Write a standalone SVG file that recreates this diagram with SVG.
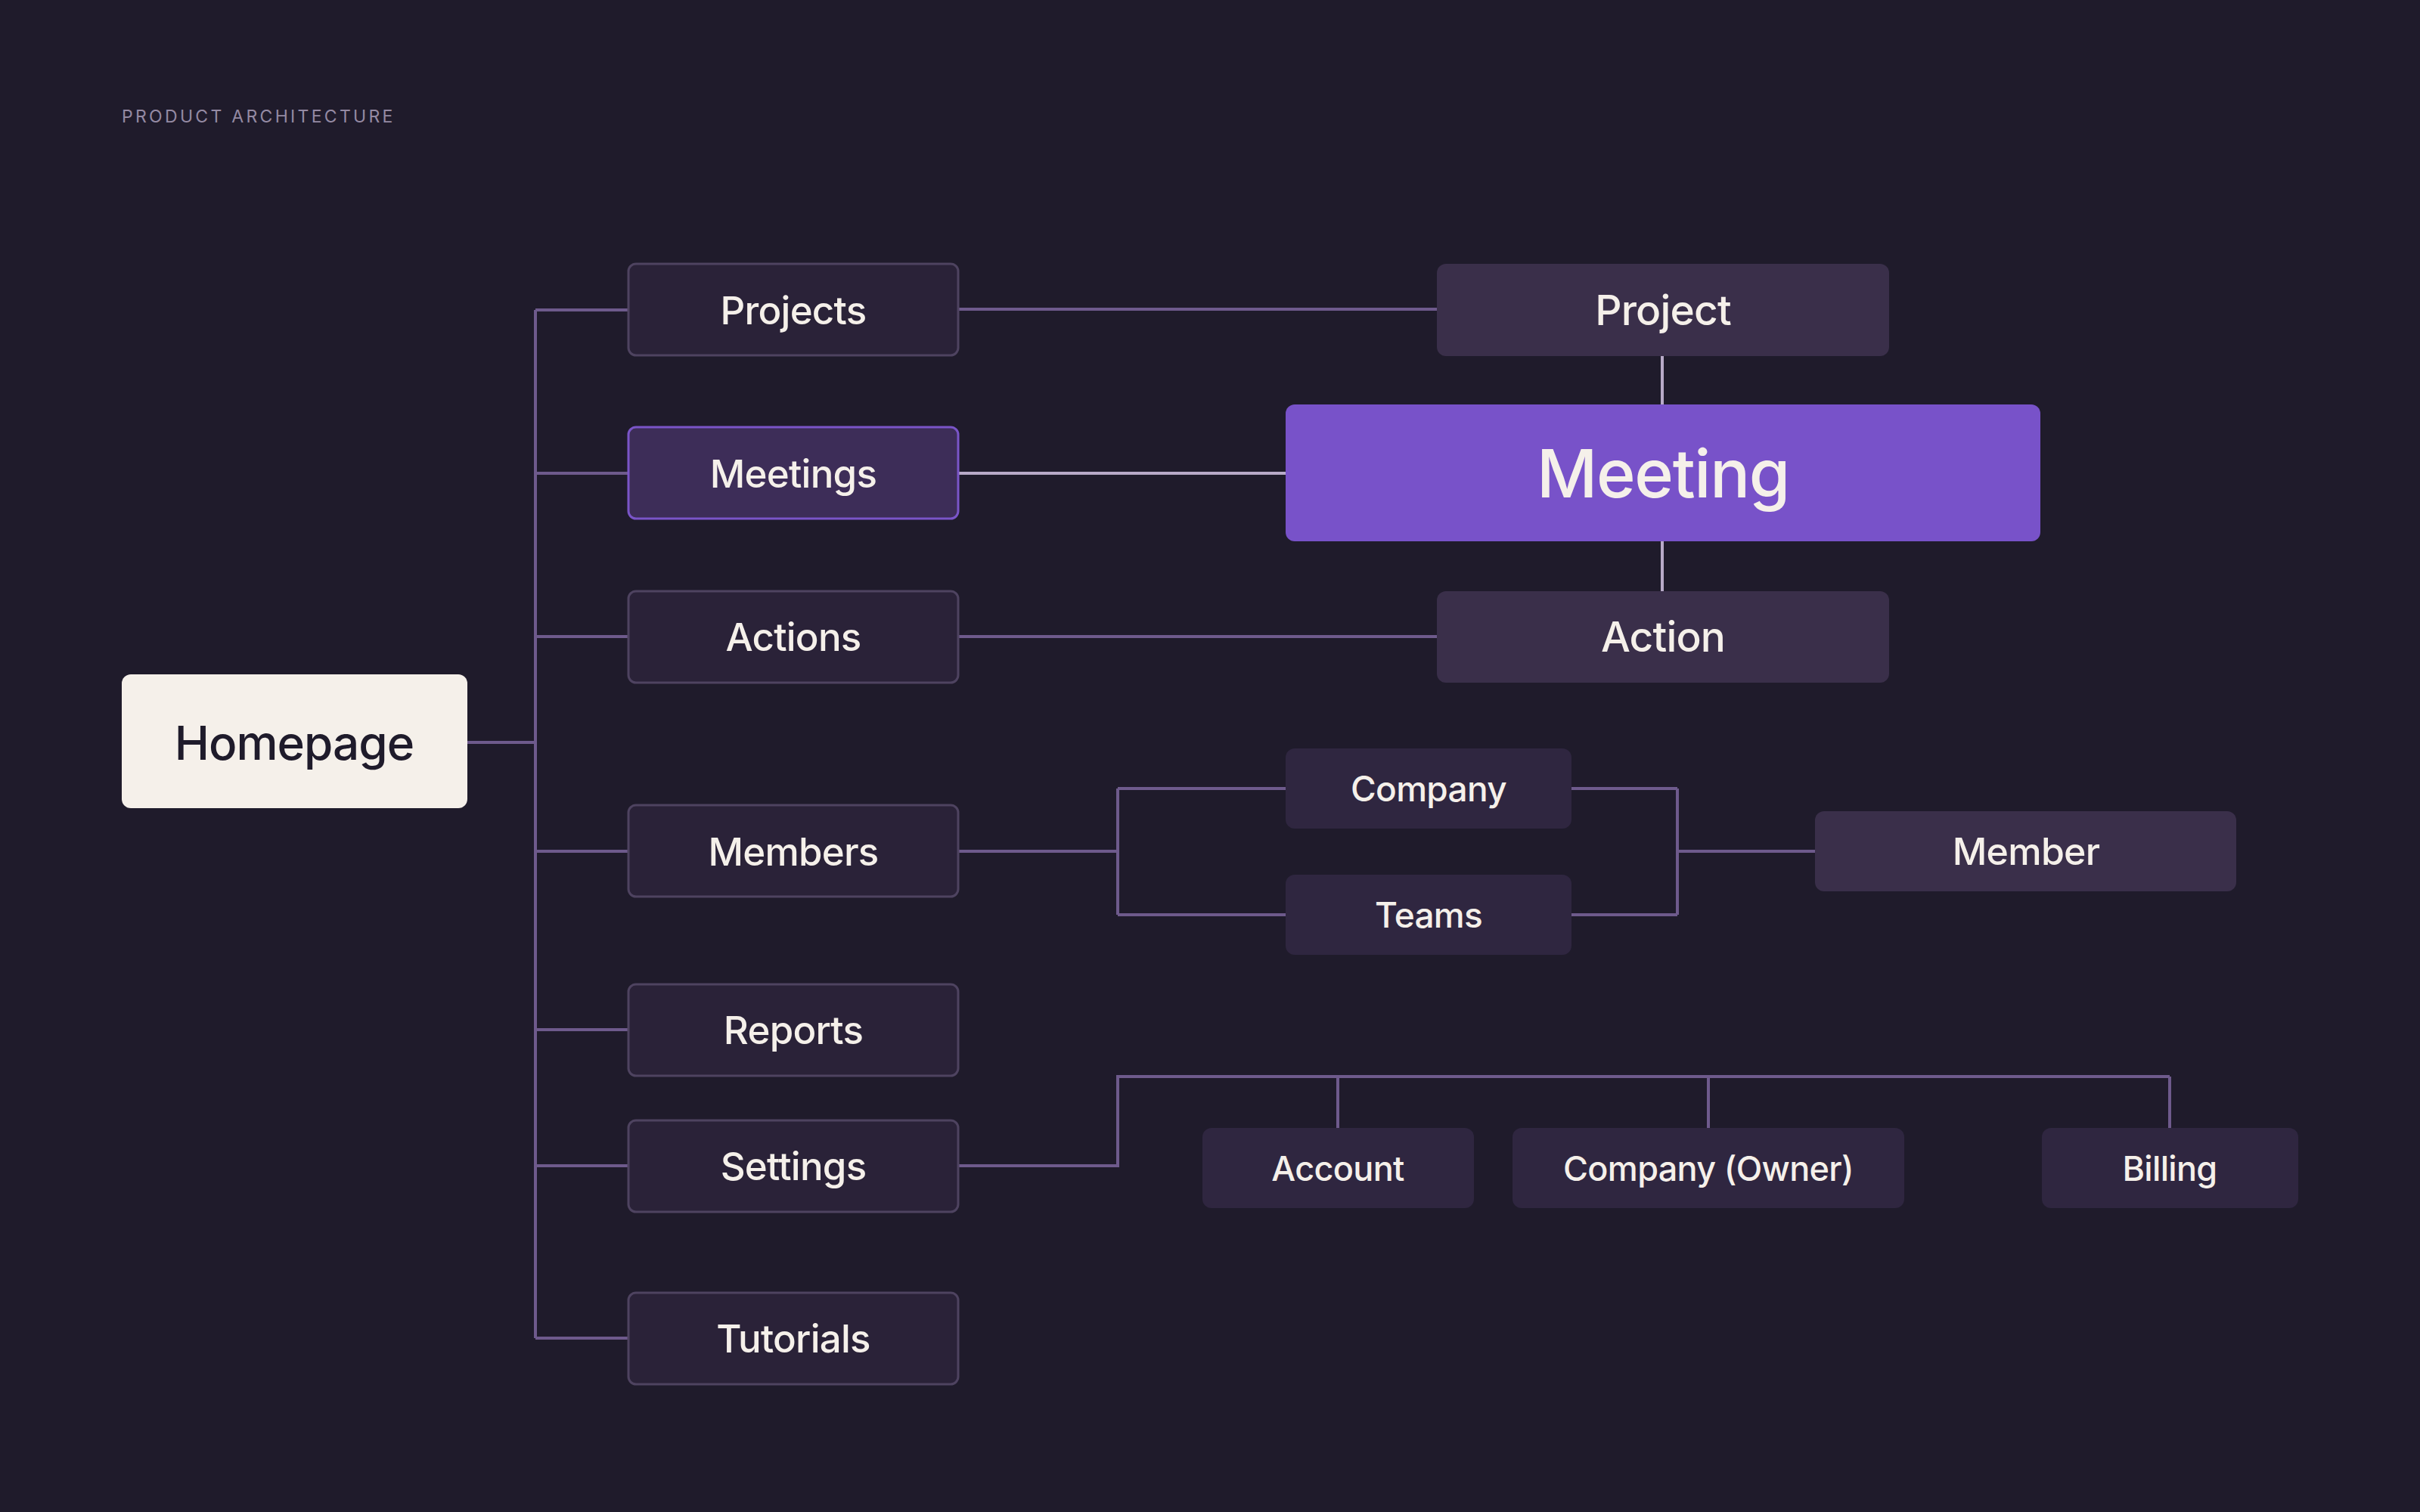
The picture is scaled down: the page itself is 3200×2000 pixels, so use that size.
<svg xmlns="http://www.w3.org/2000/svg" width="3200" height="2000" viewBox="0 0 3200 2000">
<style>
.t{font-family:Inter,"Noto Sans","Liberation Sans",sans-serif;font-weight:500;letter-spacing:-0.015em;fill:#f5f0ea;text-anchor:middle;dominant-baseline:central}
.l1{fill:#2a2238;stroke:#4e4360;stroke-width:3}
.l2{fill:#3a2f4a}
.l3{fill:#2f2640}
.c{fill:none;stroke:#6e5a8c;stroke-width:4}
.cl{fill:none;stroke:#b8aac8;stroke-width:4}
</style>
<rect width="3200" height="2000" fill="#1f1b2b"/>
<text x="161" y="162" font-family="Inter,'Liberation Sans',sans-serif" font-size="23" letter-spacing="3.3" fill="#948aa3">PRODUCT ARCHITECTURE</text>
<g id="connectors">
<path class="c" d="M618 982H708M708 410V1770M708 410H831M708 626H831M708 842H831M708 1126H831M708 1362H831M708 1542H831M708 1770H831"/>
<path class="c" d="M1267 409H1900M1267 842H1900"/>
<path class="cl" d="M1267 626H1700"/>
<path class="cl" d="M2198 471V535M2198 716V782"/>
<path class="c" d="M1267 1126H1478M1478 1043V1210M1478 1043H1700M1478 1210H1700"/>
<path class="c" d="M2078 1043H2218M2078 1210H2218M2218 1043V1210M2218 1126H2400"/>
<path class="c" d="M1267 1542H1478V1424H2869M1769 1424V1492M2259 1424V1492M2869 1424V1492"/>
</g>
<g id="homepage"><rect x="161" y="892" width="457" height="177" rx="12" fill="#f5f0ea"/><text class="t" x="389" y="982" font-size="62" style="fill:#1f1b2b">Homepage</text></g>
<g id="projects"><rect class="l1" x="831" y="349" width="436" height="121" rx="10"/><text class="t" x="1049" y="410" font-size="51">Projects</text></g>
<g id="meetings"><rect x="831" y="565" width="436" height="121" rx="10" fill="#3d2d58" stroke="#7a55c8" stroke-width="3"/><text class="t" x="1049" y="626" font-size="51">Meetings</text></g>
<g id="actions"><rect class="l1" x="831" y="782" width="436" height="121" rx="10"/><text class="t" x="1049" y="842" font-size="51">Actions</text></g>
<g id="members"><rect class="l1" x="831" y="1065" width="436" height="121" rx="10"/><text class="t" x="1049" y="1126" font-size="51">Members</text></g>
<g id="reports"><rect class="l1" x="831" y="1302" width="436" height="121" rx="10"/><text class="t" x="1049" y="1362" font-size="51">Reports</text></g>
<g id="settings"><rect class="l1" x="831" y="1482" width="436" height="121" rx="10"/><text class="t" x="1049" y="1542" font-size="51">Settings</text></g>
<g id="tutorials"><rect class="l1" x="831" y="1710" width="436" height="121" rx="10"/><text class="t" x="1049" y="1770" font-size="51">Tutorials</text></g>
<g id="project"><rect class="l2" x="1900" y="349" width="598" height="122" rx="12"/><text class="t" x="2199" y="410" font-size="55">Project</text></g>
<g id="meeting"><rect x="1700" y="535" width="998" height="181" rx="12" fill="#7852c9"/><text class="t" x="2199" y="626" font-size="88" letter-spacing="-2">Meeting</text></g>
<g id="action"><rect class="l2" x="1900" y="782" width="598" height="121" rx="12"/><text class="t" x="2199" y="842" font-size="55">Action</text></g>
<g id="company"><rect class="l3" x="1700" y="990" width="378" height="106" rx="12"/><text class="t" x="1889" y="1043" font-size="46">Company</text></g>
<g id="teams"><rect class="l3" x="1700" y="1157" width="378" height="106" rx="12"/><text class="t" x="1889" y="1210" font-size="46">Teams</text></g>
<g id="member"><rect class="l2" x="2400" y="1073" width="557" height="106" rx="12"/><text class="t" x="2679" y="1126" font-size="50">Member</text></g>
<g id="account"><rect class="l3" x="1590" y="1492" width="359" height="106" rx="12"/><text class="t" x="1769" y="1545" font-size="45">Account</text></g>
<g id="company-owner"><rect class="l3" x="2000" y="1492" width="518" height="106" rx="12"/><text class="t" x="2259" y="1545" font-size="45">Company (Owner)</text></g>
<g id="billing"><rect class="l3" x="2700" y="1492" width="339" height="106" rx="12"/><text class="t" x="2869" y="1545" font-size="45">Billing</text></g>
</svg>
